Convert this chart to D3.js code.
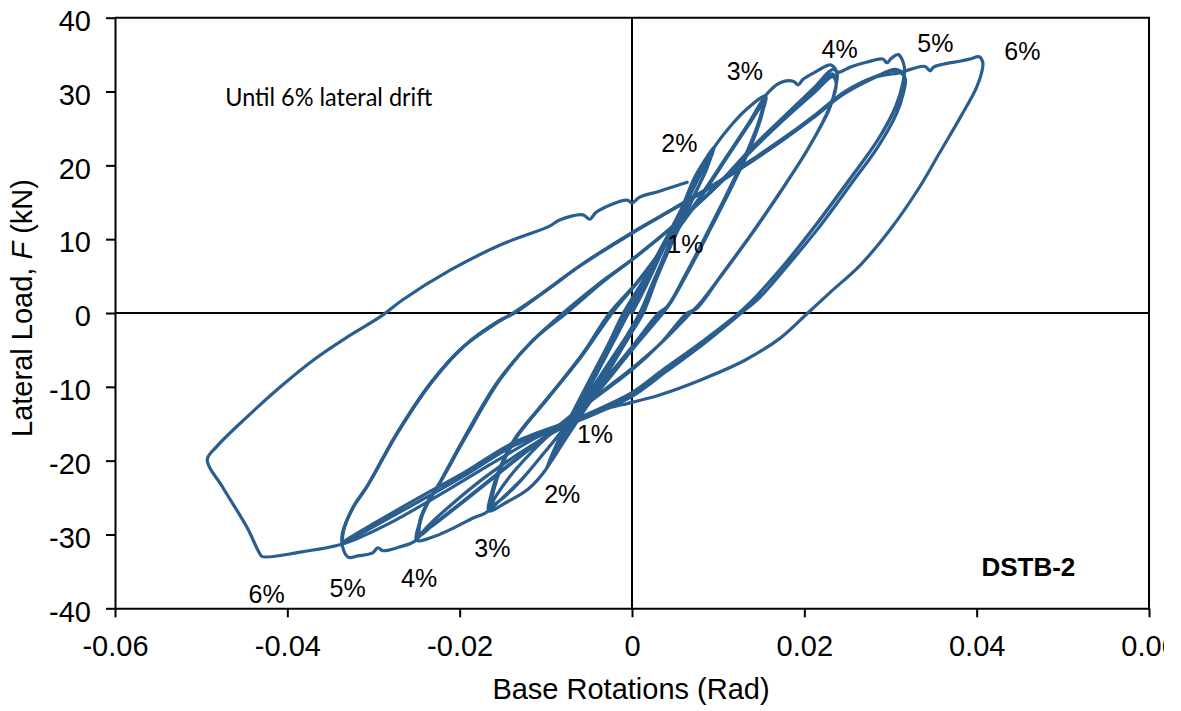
<!DOCTYPE html>
<html><head><meta charset="utf-8">
<script src="https://cdn.jsdelivr.net/npm/d3@7"></script>
<style>
html,body{margin:0;padding:0;background:#fff;}
svg{display:block;}
</style></head><body>
<svg id="chart" width="1164" height="711"></svg>
<script>
// Axis ticks
const xTicks = [-0.06, -0.04, -0.02, 0, 0.02, 0.04, 0.06];
const yTicks = [-40, -30, -20, -10, 0, 10, 20, 30, 40];

// Measured hysteresis, [base rotation (rad), lateral load (kN)], one array per drift level
const drift1 = [
  [0,0],[0.0016,3.6],[0.0036,8.6],[0.0056,13.6],[0.0071,17.8],
  [0.0066,15.6],[0.0047,10.2],[0.0027,4.8],[0.0011,0],[-0.0009,-3.6],[-0.0034,-8],[-0.0055,-11.8],[-0.0067,-13.9],
  [-0.0061,-12.4],[-0.0044,-8.9],[-0.0024,-4.3],[-0.0006,0],[0.0014,3.8],[0.0037,9],[0.0057,13.8],[0.0070,17.2],
  [0.0065,15.2],[0.0045,9.8],[0.0025,4.3],[0.0010,0],[-0.0010,-3.8],[-0.0035,-8.3],[-0.0056,-12],[-0.0066,-13.6],
  [-0.0060,-12.0],[-0.0042,-8.4],[-0.0021,-3.8],[-0.0004,0],[0.0016,4.2],[0.0039,9.4],[0.0058,14],[0.0069,16.8],
  [0.0063,14.6],[0.0043,9.2],[0.0023,3.8],[0.0009,0],[-0.0012,-4.2],[-0.0037,-8.6],[-0.0057,-12.2],[-0.0066,-13.4]
];
const drift2 = [
  [-0.0066,-13.4],[-0.0060,-12.2],[-0.0043,-8.6],[-0.0023,-4],[-0.0005,0],[0.0016,4.2],[0.0039,9.6],[0.0060,14.8],[0.0072,18.2],[0.0083,20.4],[0.0095,22.4],
  [0.0089,20.3],[0.0072,15.8],[0.0050,10.4],[0.0029,4.8],[0.0013,0],[-0.0008,-4],[-0.0033,-8.6],[-0.0056,-12.4],[-0.0068,-14.4],[-0.0082,-17.4],[-0.0099,-21],
  [-0.0093,-19.3],[-0.0075,-15.2],[-0.0052,-9.8],[-0.0029,-4.6],[-0.0010,0],[0.0015,4.8],[0.0040,10.2],[0.0064,15.6],[0.0082,19.6],[0.0093,21.9],
  [0.0087,19.7],[0.0069,15.2],[0.0047,9.8],[0.0027,4.2],[0.0012,0],[-0.0010,-4.5],[-0.0035,-9.4],[-0.0059,-13.8],[-0.0080,-17.6],[-0.0097,-20.6],
  [-0.0091,-18.9],[-0.0073,-14.8],[-0.0050,-9.4],[-0.0027,-4.2],[-0.0008,0],[0.0017,5],[0.0042,10.5],[0.0065,15.8],[0.0082,19.4],[0.0092,21.5],
  [0.0086,19.3],[0.0067,14.8],[0.0045,9.4],[0.0025,3.8],[0.0010,0],[-0.0012,-4.8],[-0.0037,-9.8],[-0.0061,-14.2],[-0.0082,-17.9],[-0.0096,-20.3]
];
const drift3 = [
  [-0.0096,-20.3],[-0.0091,-18.7],[-0.0072,-14.2],[-0.0048,-8.8],[-0.0025,-3.8],[-0.0007,0],[0.0020,5.6],[0.0048,11.6],[0.0074,17.5],[0.0093,22],[0.0112,25],[0.0133,27.6],[0.0155,29.4],
  [0.0152,27.4],[0.0140,23.2],[0.0118,17.6],[0.0092,11.6],[0.0068,6.2],[0.0046,1.6],[0.0036,0],[0.0010,-3.6],[-0.0022,-8.2],[-0.0055,-13],[-0.0085,-18],[-0.0100,-21.2],[-0.0120,-23.8],[-0.0145,-25.6],[-0.0166,-26.8],
  [-0.0163,-24.4],[-0.0152,-20.6],[-0.0136,-17],[-0.0100,-11.8],[-0.0060,-6],[-0.0026,0],[0.0006,4.2],[0.0040,9.4],[0.0075,15],[0.0108,20.8],[0.0134,25.4],[0.0153,28.8],
  [0.0149,26.6],[0.0136,22.4],[0.0114,17],[0.0089,11.2],[0.0065,5.8],[0.0043,1.2],[0.0033,0],[0.0005,-4],[-0.0030,-9],[-0.0065,-13.8],[-0.0098,-18.4],[-0.0127,-22.4],[-0.0150,-25],[-0.0164,-26.4],
  [-0.0161,-24.2],[-0.0150,-20.4],[-0.0133,-16.6],[-0.0097,-11.4],[-0.0058,-5.6],[-0.0024,0],[0.0008,4.4],[0.0042,9.6],[0.0077,15.2],[0.0110,21],[0.0135,25.4],[0.0152,28.3],
  [0.0148,26.2],[0.0134,22],[0.0112,16.6],[0.0087,10.8],[0.0063,5.4],[0.0041,0.9],[0.0031,0],[0.0002,-4.3],[-0.0034,-9.4],[-0.0069,-14.2],[-0.0101,-18.8],[-0.0129,-22.7],[-0.0151,-25.2],[-0.0163,-26.2]
];
const drift4 = [
  [-0.0163,-26.2],[-0.0161,-24],[-0.0150,-20.2],[-0.0134,-16.8],[-0.0098,-11.6],[-0.0058,-5.8],[-0.0023,0],[0.0008,4.4],[0.0042,9.8],[0.0077,15.4],[0.0110,21.2],[0.0136,25.8],[0.0156,29.6],[0.0172,31.2],[0.0187,31.4],[0.0193,30.9],[0.0198,31.6],[0.0212,32.6],[0.0231,33.6],[0.0238,32.4],
  [0.0236,30.4],[0.0229,27.6],[0.0208,23],[0.0178,17.4],[0.0143,11.4],[0.0108,5.8],[0.0078,1.2],[0.0068,0],[0.0038,-3.6],[0.0005,-7],[-0.0045,-11.6],[-0.0095,-16.4],[-0.0135,-21.2],[-0.0158,-24.8],[-0.0168,-26.9],[-0.0185,-27.8],[-0.0205,-29],[-0.0228,-30.2],[-0.0250,-30.8],
  [-0.0247,-28.6],[-0.0238,-26],[-0.0226,-23.6],[-0.0196,-17.2],[-0.0157,-9.5],[-0.0118,-4.1],[-0.0080,0],[-0.0040,3.8],[0,7.2],[0.0050,12],[0.0100,17.5],[0.0140,22.5],[0.0180,27],[0.0210,30.2],[0.0232,32.4],[0.0237,31.4],
  [0.0234,29.4],[0.0224,26.4],[0.0202,21.8],[0.0172,16.4],[0.0138,10.6],[0.0104,5.2],[0.0076,0.8],[0.0066,0],[0.0036,-3.8],[0.0002,-7.4],[-0.0050,-12],[-0.0100,-16.6],[-0.0150,-21.2],[-0.0195,-25.4],[-0.0228,-28.4],[-0.0248,-30.2],
  [-0.0245,-28],[-0.0236,-25.4],[-0.0223,-23],[-0.0192,-16.6],[-0.0153,-9],[-0.0114,-3.6],[-0.0076,0],[-0.0036,4],[0.0004,7.6],[0.0054,12.4],[0.0104,17.8],[0.0144,22.6],[0.0182,26.8],[0.0211,29.8],[0.0233,32],[0.0237,31],
  [0.0233,29],[0.0222,26],[0.0200,21.4],[0.0170,16],[0.0136,10.2],[0.0102,4.8],[0.0074,0.5],[0.0064,0],[0.0034,-4],[0,-7.7],[-0.0052,-12.3],[-0.0102,-16.9],[-0.0152,-21.5],[-0.0197,-25.7],[-0.0229,-28.6],[-0.0247,-30]
];
const drift5 = [
  [-0.0247,-30],[-0.0246,-28],[-0.0237,-25.6],[-0.0224,-23.2],[-0.0194,-16.8],[-0.0155,-9.2],[-0.0116,-3.8],[-0.0078,0],[-0.0038,4],[0.0002,7.4],[0.0052,12.2],[0.0102,17.6],[0.0142,22.6],[0.0182,27.2],[0.0212,30.6],[0.0233,33],[0.0240,32.6],[0.0253,33.3],[0.0273,34],[0.0291,34.4],[0.0296,33.9],[0.0301,34.5],[0.0309,35],[0.0316,33.4],
  [0.0314,31],[0.0306,28],[0.0286,23.6],[0.0256,18.6],[0.0218,12.6],[0.0180,7],[0.0150,3],[0.0126,0],[0.0083,-4],[0.0040,-7.4],[0,-10.8],[-0.0060,-14.2],[-0.0120,-18.2],[-0.0170,-22.2],[-0.0210,-26],[-0.0238,-29],[-0.0252,-30.9],[-0.0270,-31.7],[-0.0289,-32.2],[-0.0295,-31.8],[-0.0301,-32.5],[-0.0318,-32.9],[-0.0329,-33.1],[-0.0336,-31.6],
  [-0.0336,-29.8],[-0.0325,-26.6],[-0.0308,-23.6],[-0.0273,-16.3],[-0.0234,-9.5],[-0.0196,-4.6],[-0.0157,-1.35],[-0.0138,0],[-0.0100,3],[-0.0060,6.4],[0,10.8],[0.0050,14.2],[0.0100,17.6],[0.0140,20.6],[0.0180,23.8],[0.0210,26.4],[0.0245,29.6],[0.0280,31.8],[0.0306,33],[0.0316,32.2],
  [0.0313,30.4],[0.0305,27.6],[0.0284,23.2],[0.0253,18.2],[0.0215,12.2],[0.0177,6.6],[0.0147,2.6],[0.0124,0],[0.0080,-4],[0.0037,-7.6],[-0.0003,-11],[-0.0060,-14.1],[-0.0138,-17.6],[-0.0196,-21.7],[-0.0238,-24.4],[-0.0292,-28],[-0.0331,-30.7],[-0.0336,-31.2],
  [-0.0335,-29.4],[-0.0323,-26.2],[-0.0306,-23.2],[-0.0271,-16],[-0.0232,-9.3],[-0.0194,-4.4],[-0.0155,-1.1],[-0.0136,0],[-0.0098,3.2],[-0.0058,6.6],[0.0002,11],[0.0052,14.4],[0.0102,17.9],[0.0142,21],[0.0182,24.2],[0.0212,26.8],[0.0247,30],[0.0282,32],[0.0307,32.8],[0.0317,31.8],
  [0.0315,29.8],[0.0307,27],[0.0286,22.6],[0.0255,17.6],[0.0217,11.6],[0.0179,6.2],[0.0149,2.2],[0.0127,0],[0.0083,-4.2],[0.0040,-7.9],[0,-11.3],[-0.0058,-14.4],[-0.0136,-17.9],[-0.0194,-22],[-0.0236,-24.8],[-0.0290,-28.3],[-0.0330,-30.9],[-0.0336,-31.3]
];
const drift6 = [
  [-0.0336,-31.3],[-0.0335,-29.6],[-0.0324,-26.4],[-0.0307,-23.4],[-0.0272,-16.2],[-0.0233,-9.4],[-0.0195,-4.5],[-0.0156,-1.2],[-0.0137,0],[-0.0099,3.1],[-0.0059,6.5],[0,10.9],[0.0051,14.3],[0.0101,17.8],[0.0141,20.8],[0.0181,24],[0.0211,26.6],[0.0246,29.8],[0.0281,31.9],[0.0313,32.6],
  [0.0323,33],[0.0340,33.4],[0.0346,32.8],[0.0350,33.3],[0.0361,33.7],[0.0380,34.1],[0.0392,34.4],[0.0403,34.7],[0.0407,34],[0.0407,33.3],
  [0.0400,30.6],[0.0381,26.5],[0.0357,21.7],[0.0334,17.1],[0.0299,11.2],[0.0265,6.5],[0.0230,2.8],[0.0204,0],[0.0172,-3.4],[0.0131,-6.4],[0.0079,-9.1],[0.0032,-11.1],[0,-12.1],[-0.0040,-13.3],[-0.0100,-16.2],[-0.0160,-20.2],[-0.0220,-24.4],[-0.0280,-28.4],[-0.0320,-30.6],[-0.0339,-31.4],[-0.0385,-32.4],[-0.0429,-33],[-0.0432,-32.6],[-0.0447,-29],[-0.0475,-23.6],[-0.0493,-19.9],
  [-0.0482,-18.1],[-0.0447,-14.1],[-0.0408,-10],[-0.0370,-6.4],[-0.0331,-3.3],[-0.0292,-0.5],[-0.0266,1.8],[-0.0211,5.8],[-0.0153,9.2],[-0.0095,11.8],[-0.0084,12.6],[-0.0057,13.3],[-0.0049,12.7],[-0.0041,13.7],[-0.0006,15.3],[0,14.9],[0.0009,15.7],[0.0032,16.5],[0.0064,17.7]
];
const driftLevels = [drift1, drift2, drift3, drift4, drift5, drift6];

// Drift annotations: [text, rotation, load] (anchor = text centre, baseline)
const driftLabels = [
  ["1%", 0.0062, 8.1], ["2%", 0.0055, 21.8], ["3%", 0.0131, 31.6], ["4%", 0.0241, 34.5],
  ["5%", 0.0352, 35.4], ["6%", 0.0453, 34.3],
  ["1%", -0.0043, -17.6], ["2%", -0.0081, -25.7], ["3%", -0.0162, -33.0], ["4%", -0.0247, -37.1],
  ["5%", -0.0330, -38.5], ["6%", -0.0424, -39.3]
];

const svg = d3.select("#chart");
const x = d3.scaleLinear().domain([-0.06, 0.06]).range([115, 1149]);
const y = d3.scaleLinear().domain([-40, 40]).range([608.3, 17.7]);
const FONT = "'Liberation Sans', Arial, sans-serif";
const BLUE = "#2a5e8e";

// Plot frame (top and right)
svg.append("path")
  .attr("d", `M${x(-0.06)},${y(40)}H${x(0.06)}V${y(-40)}`)
  .attr("fill", "none").attr("stroke", "#000").attr("stroke-width", 2);

// Zero reference lines
svg.append("line").attr("x1", x(0)).attr("x2", x(0)).attr("y1", y(40)).attr("y2", y(-40))
  .attr("stroke", "#000").attr("stroke-width", 2);
svg.append("line").attr("x1", x(-0.06)).attr("x2", x(0.06)).attr("y1", y(0)).attr("y2", y(0))
  .attr("stroke", "#000").attr("stroke-width", 2);

// Axes
const fmtX = d => d === 0 ? "0" : d.toFixed(2);
const gx = svg.append("g").attr("transform", `translate(0,${y(-40)})`)
  .call(d3.axisBottom(x).tickValues(xTicks).tickFormat(fmtX).tickSize(9).tickSizeOuter(0));
gx.selectAll("text").attr("y", 47.7).attr("dy", 0);

const gy = svg.append("g").attr("transform", `translate(${x(-0.06)},0)`)
  .call(d3.axisLeft(y).tickValues(yTicks).tickFormat(d => String(d)).tickSize(9).tickPadding(15).tickSizeOuter(0));
gy.selectAll("text").attr("dy", "0.44em");

[gx, gy].forEach(g => {
  g.select(".domain").attr("stroke", "#000").attr("stroke-width", 2);
  g.selectAll(".tick line").attr("stroke", "#000").attr("stroke-width", 2);
  g.selectAll(".tick text").attr("fill", "#000").style("font-family", FONT).style("font-size", "29px");
});

// Hysteresis curves
const line = d3.line()
  .x(d => x(d[0])).y(d => y(d[1]))
  .curve(d3.curveCatmullRom.alpha(0.5));
svg.append("g").selectAll("path").data(driftLevels).join("path")
  .attr("d", line)
  .attr("fill", "none")
  .attr("stroke", BLUE)
  .attr("stroke-width", 3.2)
  .attr("stroke-linejoin", "round")
  .attr("stroke-linecap", "round");

// Drift level labels
svg.append("g").selectAll("text").data(driftLabels).join("text")
  .attr("x", d => x(d[1])).attr("y", d => y(d[2]))
  .attr("text-anchor", "middle")
  .style("font-family", FONT).style("font-size", "25px").attr("fill", "#000")
  .text(d => d[0]);

// Annotations
svg.append("text").attr("x", x(-0.0472)).attr("y", y(28.0))
  .attr("textLength", 207).attr("lengthAdjust", "spacingAndGlyphs")
  .style("font-family", "Lato, 'Open Sans', sans-serif").style("font-size", "25px")
  .attr("fill", "#000").text("Until 6% lateral drift");
svg.append("text").attr("x", x(0.046)).attr("y", y(-35.6)).attr("text-anchor", "middle")
  .style("font-family", FONT).style("font-size", "26px").style("font-weight", "bold")
  .attr("fill", "#000").text("DSTB-2");

// Axis titles
svg.append("text").attr("x", 631).attr("y", 699).attr("text-anchor", "middle")
  .style("font-family", FONT).style("font-size", "29px").attr("fill", "#000")
  .text("Base Rotations (Rad)");
const yt = svg.append("text").attr("transform", "translate(32,308) rotate(-90)")
  .attr("text-anchor", "middle")
  .style("font-family", FONT).style("font-size", "29px").attr("fill", "#000");
yt.append("tspan").text("Lateral Load, ");
yt.append("tspan").style("font-style", "italic").text("F");
yt.append("tspan").text(" (kN)");
</script>
</body></html>
